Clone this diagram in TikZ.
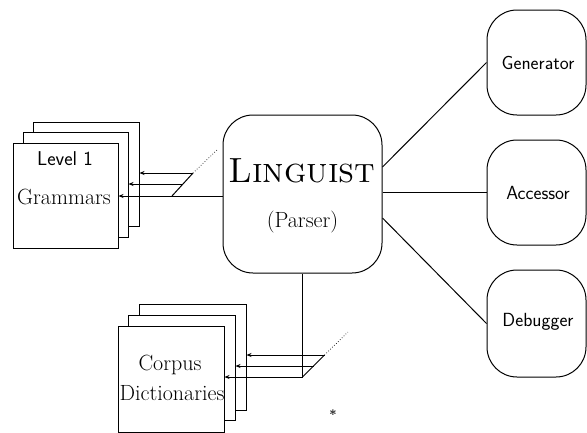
\documentclass[tikz,border=0pt]{standalone}
\usetikzlibrary{arrows.meta}
\begin{document}
\begin{tikzpicture}[x=1pt,y=-1pt,
  ln/.style={line width=1pt},
  arr/.style={ln,-{Stealth[length=5pt,width=4pt]}},
  sheet/.style={draw,ln,fill=white,rectangle,inner sep=0pt},
  rbox/.style={draw,ln,rectangle,rounded corners=30pt,inner sep=0pt},
  serif/.style={font=\fontsize{22}{25}\selectfont},
  sans/.style={font=\sffamily\fontsize{19}{22}\selectfont}]
\useasboundingbox (0,0) rectangle (587,432);
% Linguist
\node[rbox,minimum width=159pt,minimum height=158pt] (ling) at (302.5,194) {};
\node[font=\fontsize{35}{38}\selectfont] (lt) at (302,171) {\textsc{Linguist}};
\node[serif] (lp) at (302.5,222) {(Parser)};
% right boxes
\node[rbox,minimum width=99pt,minimum height=105pt] (gen) at (536.5,62.5) {};
\node[sans] (gent) at (538,63) {Generator};
\node[rbox,minimum width=99pt,minimum height=105pt] (acc) at (536.5,192.5) {};
\node[sans] (acct) at (538,193) {Accessor};
\node[rbox,minimum width=99pt,minimum height=107pt] (deb) at (536.5,323.5) {};
\node[sans] (debt) at (538,322) {Debugger};
\draw[ln] ([yshift=27pt]ling.east) -- (gen.west);
\draw[ln] (ling.east |- acc.west) -- (acc.west);
\draw[ln] ([yshift=-24pt]ling.east) -- (deb.west);
% grammar stack
\node[sheet,minimum width=106pt,minimum height=104pt] (gback) at (86,174) {};
\node[sheet,minimum width=105pt,minimum height=105pt] (gmid) at (75.5,184.5) {};
\node[sheet,minimum width=105pt,minimum height=105pt] (gfront) at (65.5,195.5) {};
\node[sans,font=\sffamily\fontsize{20}{23}\selectfont] (lev) at (65,159) {Level 1};
\node[serif] (gram) at (64,197) {Grammars};
\coordinate (g1) at (172,196);
\coordinate (gm) at (183,184);
\coordinate (g2) at (193,173);
\coordinate (g3) at (217,150);
\draw[ln] (g1) -- (g2);
\draw[line width=0.7pt,dotted] (g2) -- (g3);
\draw[arr] (ling.west |- g1) -- (gfront.east |- g1);
\draw[arr] (gm) -- (gmid.east |- gm);
\draw[arr] (g2) -- (gback.east |- g2);
% corpus stack
\node[sheet,minimum width=107pt,minimum height=106pt] (cback) at (192.5,357) {};
\node[sheet,minimum width=107pt,minimum height=105pt] (cmid) at (181.5,367.5) {};
\node[sheet,minimum width=106pt,minimum height=106pt] (cfront) at (171,379) {};
\node[serif] (corp) at (170,365) {Corpus};
\node[serif] (dict) at (172,393) {Dictionaries};
\coordinate (c1) at (302.5,377);
\coordinate (cm) at (313.5,366);
\coordinate (c2) at (324.5,355);
\coordinate (c3) at (348,332);
\draw[ln] (ling.south) -- (c1);
\draw[ln] (c1) -- (c2);
\draw[line width=0.7pt,dotted] (c2) -- (c3);
\draw[arr] (c1) -- (cfront.east |- c1);
\draw[arr] (cm) -- (cmid.east |- cm);
\draw[arr] (c2) -- (cback.east |- c2);
\node[font=\bfseries\fontsize{13}{15}\selectfont] (ast) at (333,415) {*};
\end{tikzpicture}
\end{document}
